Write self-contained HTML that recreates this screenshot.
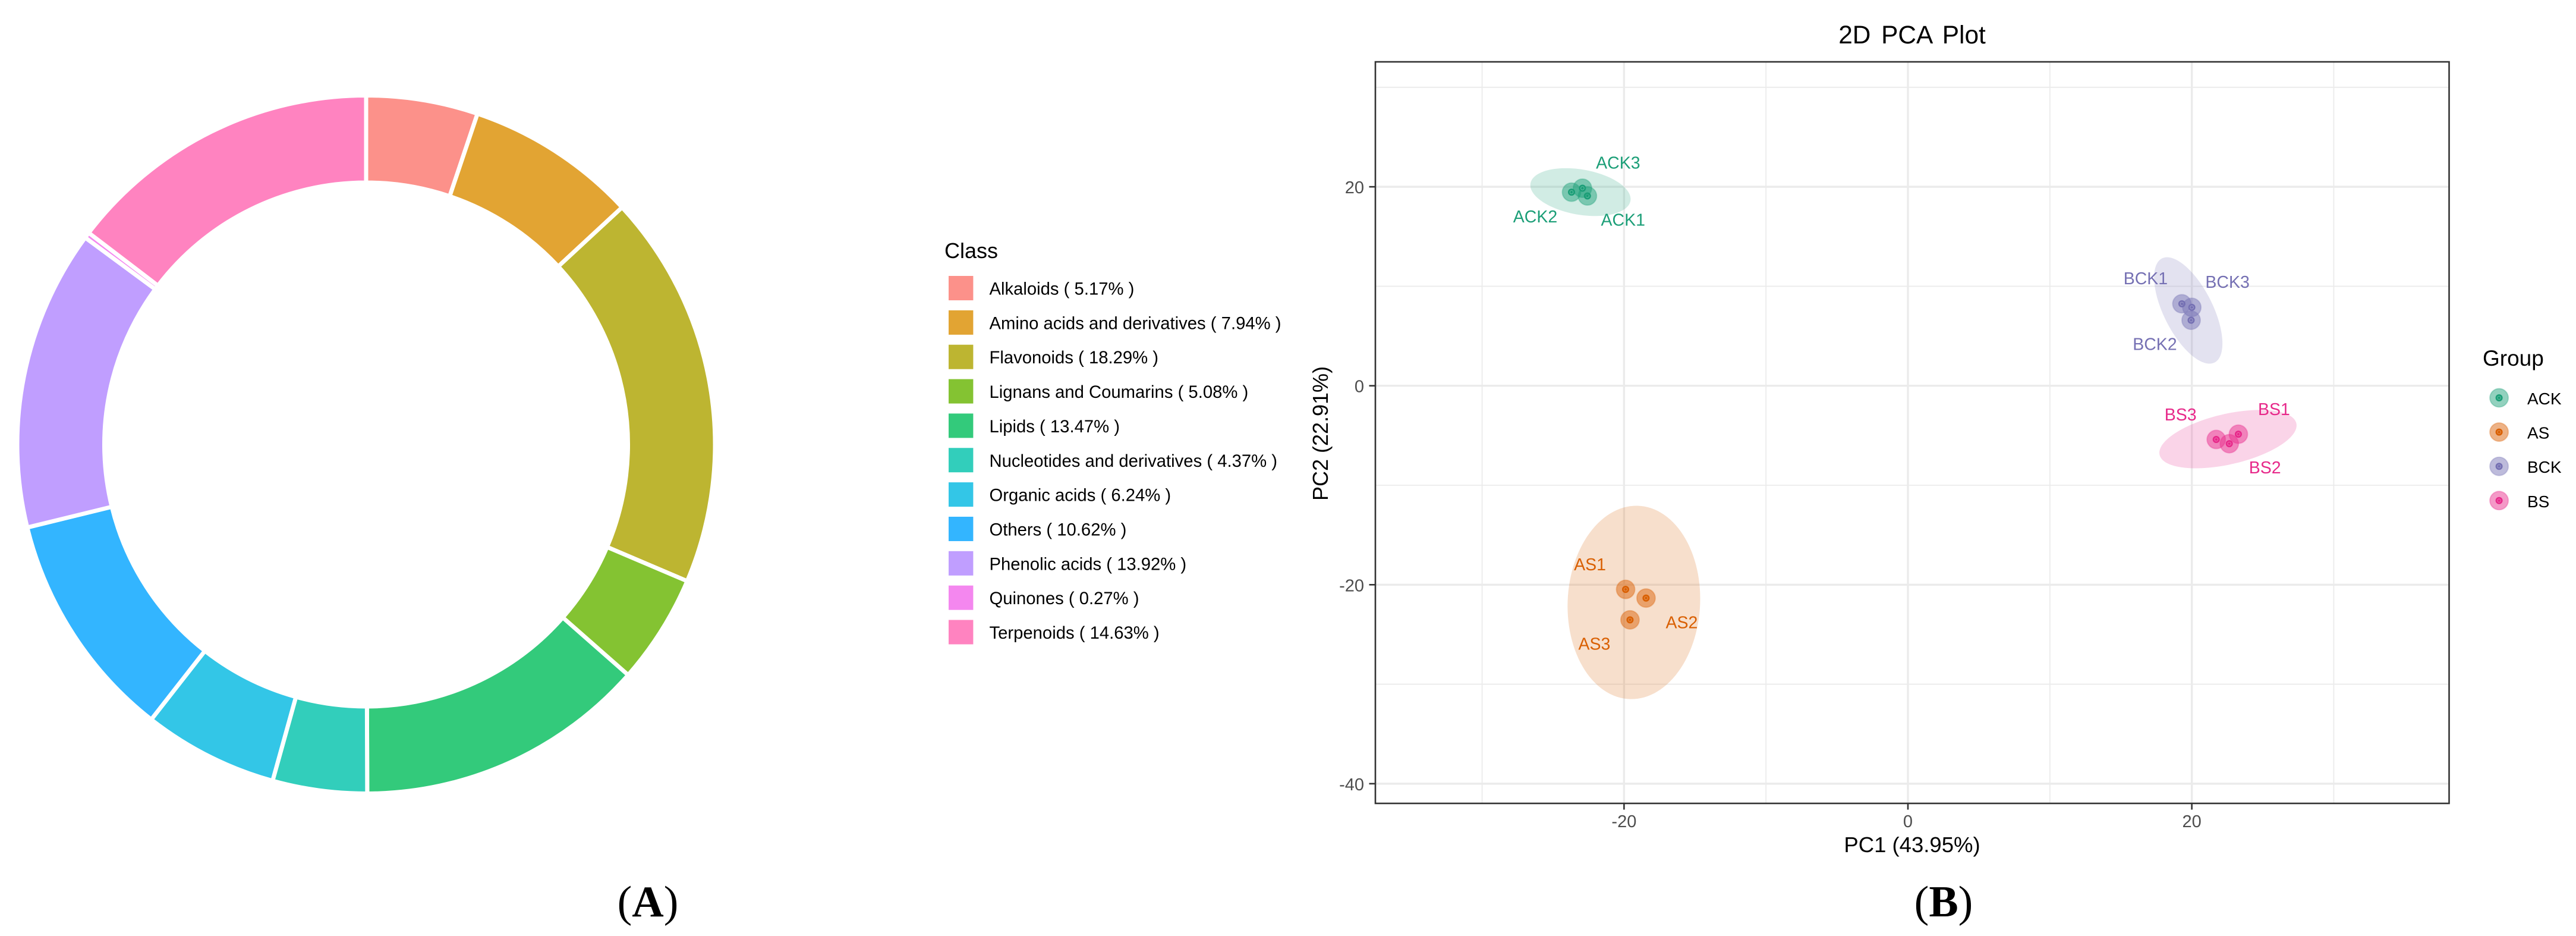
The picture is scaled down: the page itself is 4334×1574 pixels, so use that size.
<!DOCTYPE html>
<html lang="en">
<head>
<meta charset="utf-8">
<title>Metabolite class composition and 2D PCA plot</title>
<style>
html,body{margin:0;padding:0;background:#fff}
svg{display:block;font-family:"Liberation Sans",Arial,sans-serif}
</style>
</head>
<body>
<svg id="figure" xmlns="http://www.w3.org/2000/svg" width="4334" height="1574" viewBox="0 0 4334 1574">
  <rect width="4334" height="1574" fill="#ffffff"/>
  <g id="donut"></g>
  <g id="class-legend">
    <text x="1589" y="434" font-size="36" fill="#000">Class</text>
  </g>
  <text x="1090" y="1541" font-size="74" text-anchor="middle" fill="#000" style="font-family:'Liberation Serif',serif">(<tspan font-weight="bold">A</tspan>)</text>

  <text x="3217" y="73" font-size="42.4" text-anchor="middle" fill="#000" style="word-spacing:6px">2D PCA Plot</text>
  <g id="pca-grid"></g>
  <g id="pca-ellipses"></g>
  <g id="pca-points"></g>
  <g id="pca-labels"></g>
  <rect x="2314" y="104" width="1806.5" height="1247" fill="none" stroke="#333333" stroke-width="2.6"/>
  <g id="pca-axes"></g>
  <text x="3217" y="1433" font-size="36.5" text-anchor="middle" fill="#000">PC1 (43.95%)</text>
  <text transform="translate(2234 729) rotate(-90)" font-size="36" text-anchor="middle" fill="#000">PC2 (22.91%)</text>
  <g id="group-legend">
    <text x="4177" y="615" font-size="37" fill="#000">Group</text>
  </g>
  <text x="3270" y="1541" font-size="74" text-anchor="middle" fill="#000" style="font-family:'Liberation Serif',serif">(<tspan font-weight="bold">B</tspan>)</text>
</svg>
<script>
// ---------- donut data ----------
const classNames = ["Alkaloids","Amino acids and derivatives","Flavonoids","Lignans and Coumarins","Lipids","Nucleotides and derivatives","Organic acids","Others","Phenolic acids","Quinones","Terpenoids"];
const classShares = [5.17,7.94,18.29,5.08,13.47,4.37,6.24,10.62,13.92,0.27,14.63];
const classColors = ["#FC918A","#E2A433","#BDB531","#84C332","#33CA7B","#32CEBB","#33C6E7","#33B5FF","#C09EFF","#F487EF","#FF83C0"];

// ---------- PCA data ----------
const groupNames = ["ACK","AS","BCK","BS"];
const groupColors = ["#1B9E77","#D95F02","#7570B3","#E7298A"];
const ackPC1 = [-22.58,-23.70,-22.93];
const ackPC2 = [19.08,19.46,19.86];
const asPC1 = [-19.89,-18.45,-19.58];
const asPC2 = [-20.47,-21.34,-23.53];
const bckPC1 = [19.30,19.95,20.00];
const bckPC2 = [8.24,6.59,7.88];
const bsPC1 = [23.28,22.64,21.72];
const bsPC2 = [-4.87,-5.82,-5.40];
const xMajorTicks = [-20,0,20];
const xMinorTicks = [-30,-10,10,30];
const yMajorTicks = [-40,-20,0,20];
const yMinorTicks = [-30,-10,10,30];

const NS = "http://www.w3.org/2000/svg";
function make(tag, attrs, parent, text) {
  const el = document.createElementNS(NS, tag);
  for (const k in attrs) el.setAttribute(k, attrs[k]);
  if (text !== undefined) el.textContent = text;
  parent.appendChild(el);
  return el;
}

// ---------- donut ----------
function drawDonut() {
  const g = document.getElementById("donut");
  const cx = 616, cy = 747.5, R = 587, r = 440.5;
  const total = classShares.reduce((a, b) => a + b, 0);
  const polar = (rad, share) => {
    const t = share / total * 2 * Math.PI;
    return [cx + rad * Math.sin(t), cy - rad * Math.cos(t)];
  };
  let cum = 0;
  classShares.forEach((v, i) => {
    const a0 = cum, a1 = cum + v;
    cum = a1;
    const large = v / total > 0.5 ? 1 : 0;
    const p0 = polar(R, a0), p1 = polar(R, a1), p2 = polar(r, a1), p3 = polar(r, a0);
    const d = `M${p0[0]} ${p0[1]}A${R} ${R} 0 ${large} 1 ${p1[0]} ${p1[1]}L${p2[0]} ${p2[1]}A${r} ${r} 0 ${large} 0 ${p3[0]} ${p3[1]}Z`;
    const slice = make("path", {d: d, fill: classColors[i], stroke: "#ffffff", "stroke-width": 7, "stroke-linejoin": "miter"}, g);
    
    
  });
}

function drawClassLegend() {
  const g = document.getElementById("class-legend");
  classNames.forEach((name, i) => {
    const y = 464 + i * 57.85;
    const key = make("rect", {x: 1596, y: y, width: 41.4, height: 41, fill: classColors[i]}, g);
    
    
    const label = make("text", {x: 1664.5, y: y + 31.5, "font-size": 29.25, fill: "#000"}, g, `${name} ( ${classShares[i].toFixed(2)}% )`);
    
    
  });
}

// ---------- PCA axis functions ----------
const panel = {left: 2313.5, right: 4120.6, top: 103.5, bottom: 1351};
const xDomain = [-37.54, 38.13];
const yDomain = [-41.98, 32.59];
function xScale(v) { return panel.left + (v - xDomain[0]) / (xDomain[1] - xDomain[0]) * (panel.right - panel.left); }
function yScale(v) { return panel.bottom - (v - yDomain[0]) / (yDomain[1] - yDomain[0]) * (panel.bottom - panel.top); }

function drawGrid() {
  const g = document.getElementById("pca-grid");
  const vline = (v, w) => make("line", {x1: xScale(v), x2: xScale(v), y1: panel.top, y2: panel.bottom, stroke: "#EBEBEB", "stroke-width": w}, g);
  const hline = (v, w) => make("line", {x1: panel.left, x2: panel.right, y1: yScale(v), y2: yScale(v), stroke: "#EBEBEB", "stroke-width": w}, g);
  xMinorTicks.forEach(v => {
    const l = vline(v, 1.8);
    
    
  });
  yMinorTicks.forEach(v => {
    const l = hline(v, 1.8);
    
    
  });
  xMajorTicks.forEach(v => {
    const l = vline(v, 3.4);
    
    
  });
  yMajorTicks.forEach(v => {
    const l = hline(v, 3.4);
    
    
  });
}

function drawAxes() {
  const g = document.getElementById("pca-axes");
  xMajorTicks.forEach(v => {
    const t = make("line", {x1: xScale(v), x2: xScale(v), y1: panel.bottom, y2: panel.bottom + 10.5, stroke: "#333333", "stroke-width": 2.6}, g);
    
    
    const l = make("text", {x: xScale(v), y: 1391, "font-size": 29, "text-anchor": "middle", fill: "#4D4D4D"}, g, String(v));
    
    
  });
  yMajorTicks.forEach(v => {
    const t = make("line", {x1: panel.left - 10, x2: panel.left, y1: yScale(v), y2: yScale(v), stroke: "#333333", "stroke-width": 2.6}, g);
    
    
    const l = make("text", {x: 2295, y: yScale(v) + 11, "font-size": 29, "text-anchor": "end", fill: "#4D4D4D"}, g, String(v));
    
    
  });
}

// Normal-theory 95% ellipse for three samples: mean + sqrt(2*F(.95,2,2)) * chol(cov) * unit circle
function ellipsePath(xs, ys) {
  const n = xs.length;
  const mx = xs.reduce((a, b) => a + b, 0) / n;
  const my = ys.reduce((a, b) => a + b, 0) / n;
  let sxx = 0, syy = 0, sxy = 0;
  for (let i = 0; i < n; i++) {
    sxx += (xs[i] - mx) * (xs[i] - mx);
    syy += (ys[i] - my) * (ys[i] - my);
    sxy += (xs[i] - mx) * (ys[i] - my);
  }
  sxx /= n - 1; syy /= n - 1; sxy /= n - 1;
  const l11 = Math.sqrt(sxx), l21 = sxy / l11, l22 = Math.sqrt(Math.max(syy - l21 * l21, 0));
  const k = Math.sqrt(2 * 19);
  let d = "";
  for (let s = 0; s < 120; s++) {
    const t = s / 120 * 2 * Math.PI;
    const u = Math.cos(t), w = Math.sin(t);
    const px = xScale(mx + k * l11 * u);
    const py = yScale(my + k * (l21 * u + l22 * w));
    d += (s ? "L" : "M") + px.toFixed(2) + " " + py.toFixed(2);
  }
  return d + "Z";
}

function drawMarker(g, cx, cy, color, name) {
  const halo = make("circle", {cx: cx, cy: cy, r: 15.5, fill: color, "fill-opacity": 0.48, stroke: color, "stroke-opacity": 0.3, "stroke-width": 2}, g);
  
  
  const core = make("circle", {cx: cx, cy: cy, r: 6, fill: color}, g);
  
  
  make("circle", {cx: cx, cy: cy, r: 2.8, fill: "none", stroke: "#ffffff", "stroke-opacity": 0.35, "stroke-width": 0.9}, g);
}

function drawPCA() {
  const series = [
    {xs: ackPC1, ys: ackPC2},
    {xs: asPC1, ys: asPC2},
    {xs: bckPC1, ys: bckPC2},
    {xs: bsPC1, ys: bsPC2}
  ];
  // label placement relative to each sample marker, per sample number (repel-style nudges)
  const nudgeFor = {
    "ACK": [[60, 50], [-61, 51], [60, -33]],
    "AS": [[-60, -32], [60, 51], [-60, 50]],
    "BCK": [[-61, -33], [-61, 50], [60, -33]],
    "BS": [[60, -32], [60, 50], [-60, -32]]
  };
  const eg = document.getElementById("pca-ellipses");
  const pg = document.getElementById("pca-points");
  const lg = document.getElementById("pca-labels");
  series.forEach((s, gi) => {
    const group = groupNames[gi], color = groupColors[gi];
    const e = make("path", {d: ellipsePath(s.xs, s.ys), fill: color, "fill-opacity": 0.2}, eg);
    
    
    s.xs.forEach((xv, i) => {
      const px = xScale(xv), py = yScale(s.ys[i]);
      drawMarker(pg, px, py, color, 'point-' + group.toLowerCase() + (i + 1));
      const nudge = nudgeFor[group][i];
      const t = make("text", {x: px + nudge[0], y: py + nudge[1], "font-size": 28.5, "text-anchor": "middle", fill: color}, lg, group + (i + 1));
      
      
    });
  });
}

function drawGroupLegend() {
  const g = document.getElementById("group-legend");
  groupNames.forEach((name, i) => {
    const y = 669 + i * 57.6;
    drawMarker(g, 4204.6, y, groupColors[i], 'group-legend-key-' + name.toLowerCase());
    const l = make("text", {x: 4252, y: y + 11, "font-size": 28, fill: "#000"}, g, name);
    
    
  });
}

drawDonut();
drawClassLegend();
drawGrid();
drawPCA();
drawAxes();
drawGroupLegend();
</script>
</body>
</html>
